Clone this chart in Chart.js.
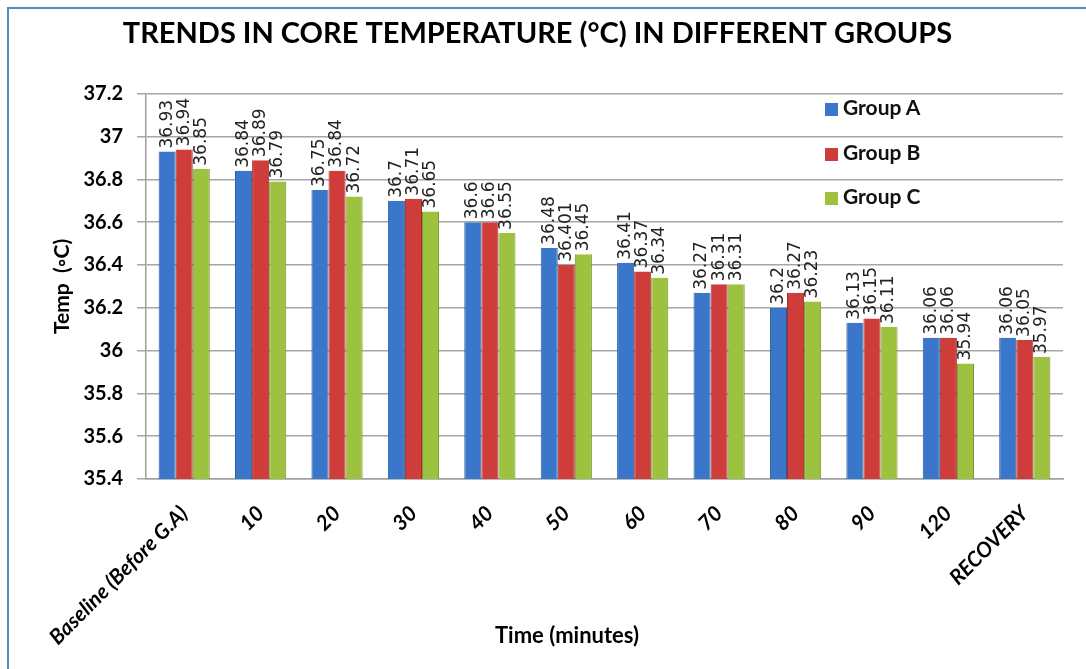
<!DOCTYPE html>
<html>
<head>
<meta charset="utf-8">
<script src="https://cdn.jsdelivr.net/npm/chart.js@4.4.1/dist/chart.umd.min.js"></script>
<style>
    html, body { margin: 0; padding: 0; background: #fff; }
    #wrap { position: relative; width: 1086px; height: 669px; overflow: hidden; }
    #frame { position: absolute; left: 7px; top: 7px; width: 1100px; height: 700px; border: 2px solid #5a88c6; box-sizing: border-box; }
    #chart { position: absolute; left: 0; top: 0; }
    .leg { position: absolute; left: 825px; font: bold 21px Lato, sans-serif; color: #111; line-height: 22px; }
    .leg span { display: inline-block; width: 13px; height: 13px; margin-right: 5px; vertical-align: -1px; }
</style>
</head>
<body>
<div id="wrap">
    <div id="frame"></div>
    <canvas id="chart" width="1086" height="669"></canvas>
    <div id="legend"></div>
</div>
<script>
// 数据
const categories = ['Baseline (Before G.A)', '10', '20', '30', '40', '50', '60', '70', '80', '90', '120', 'RECOVERY'];
const groupA = [36.93, 36.84, 36.75, 36.7, 36.6, 36.48, 36.41, 36.27, 36.2, 36.13, 36.06, 36.06];
const groupB = [36.94, 36.89, 36.84, 36.71, 36.6, 36.401, 36.37, 36.31, 36.27, 36.15, 36.06, 36.05];
const groupC = [36.85, 36.79, 36.72, 36.65, 36.55, 36.45, 36.34, 36.31, 36.23, 36.11, 35.94, 35.97];
const yTickValues = [35.4, 35.6, 35.8, 36, 36.2, 36.4, 36.6, 36.8, 37, 37.2];
const seriesNames = ['Group A', 'Group B', 'Group C'];
const seriesColors = ['#3a76c9', '#cf3d3a', '#9dc23f'];
const seriesBorders = ['#2a5a9e', '#a52c2a', '#77952c'];

// 图例
const legendBox = document.getElementById('legend');
const legendTops = [96, 141, 185];
seriesNames.forEach((name, i) => {
    const div = document.createElement('div');
    div.className = 'leg';
    div.style.top = legendTops[i] + 'px';
    div.innerHTML = `<span style="background:${seriesColors[i]}"></span>${name}`;
    legendBox.appendChild(div);
});

// 柱顶竖排数值 + 横轴标题
const valueLabels = {
    id: 'valueLabels',
    afterDatasetsDraw(chart) {
        const ctx = chart.ctx;
        ctx.save();
        ctx.fillStyle = '#222';
        ctx.font = '17px "DejaVu Sans", sans-serif';
        ctx.textAlign = 'left';
        ctx.textBaseline = 'middle';
        chart.data.datasets.forEach((ds, di) => {
            chart.getDatasetMeta(di).data.forEach((bar, i) => {
                ctx.save();
                ctx.translate(bar.x, bar.y - 3);
                ctx.rotate(-Math.PI / 2);
                ctx.fillText(String(ds.data[i]), 0, 0);
                ctx.restore();
            });
        });
        // x 轴标题 (原图略偏左)
        ctx.fillStyle = '#000';
        ctx.font = 'bold 22px Lato, sans-serif';
        ctx.textAlign = 'center';
        ctx.fillText('Time (minutes)', 567, 636);
        ctx.restore();
    }
};

const chart = new Chart(document.getElementById('chart'), {
    type: 'bar',
    data: {
        labels: categories,
        datasets: [groupA, groupB, groupC].map((d, i) => ({
            label: seriesNames[i],
            data: d,
            backgroundColor: seriesColors[i],
            borderColor: seriesBorders[i],
            borderWidth: { left: 1, right: 1, top: 0, bottom: 0 },
            categoryPercentage: 0.67,
            barPercentage: 1
        }))
    },
    options: {
        responsive: false,
        animation: false,
        layout: { padding: { left: 12, right: 23, top: 0, bottom: 14 } },
        plugins: {
            legend: { display: false },
            tooltip: { enabled: false },
            title: {
                display: true,
                text: 'TRENDS IN CORE TEMPERATURE (°C) IN DIFFERENT GROUPS',
                color: '#000',
                font: { family: 'Lato', size: 29, weight: 'bold' },
                padding: { top: 16, bottom: 43 }
            }
        },
        scales: {
            x: {
                grid: { display: false },
                border: { display: true, color: '#a0a0a0', width: 1.5 },
                ticks: {
                    color: '#000',
                    maxRotation: 45,
                    minRotation: 45,
                    padding: 14,
                    font: { family: 'Lato', size: 21, weight: 'bold', style: 'italic' }
                },
                afterFit(scale) { scale.height = 176; }
            },
            y: {
                min: 35.4,
                max: 37.2,
                afterBuildTicks(scale) { scale.ticks = yTickValues.map(v => ({ value: v })); },
                grid: { color: '#a6a6a6', lineWidth: 1.5, tickLength: 9 },
                border: { display: true, color: '#a0a0a0', width: 1.5 },
                ticks: {
                    color: '#000',
                    padding: 14,
                    font: { family: 'Lato', size: 20, weight: 'bold' },
                    callback: v => String(Number(v.toFixed(1)))
                },
                title: {
                    display: true,
                    text: 'Temp  (◦C)',
                    color: '#000',
                    font: { family: 'Lato', size: 21, weight: 'bold' },
                    padding: { top: 38, bottom: 0 }
                },
                afterFit(scale) { scale.width = 134; }
            }
        }
    },
    plugins: [valueLabels]
});
</script>
</body>
</html>
